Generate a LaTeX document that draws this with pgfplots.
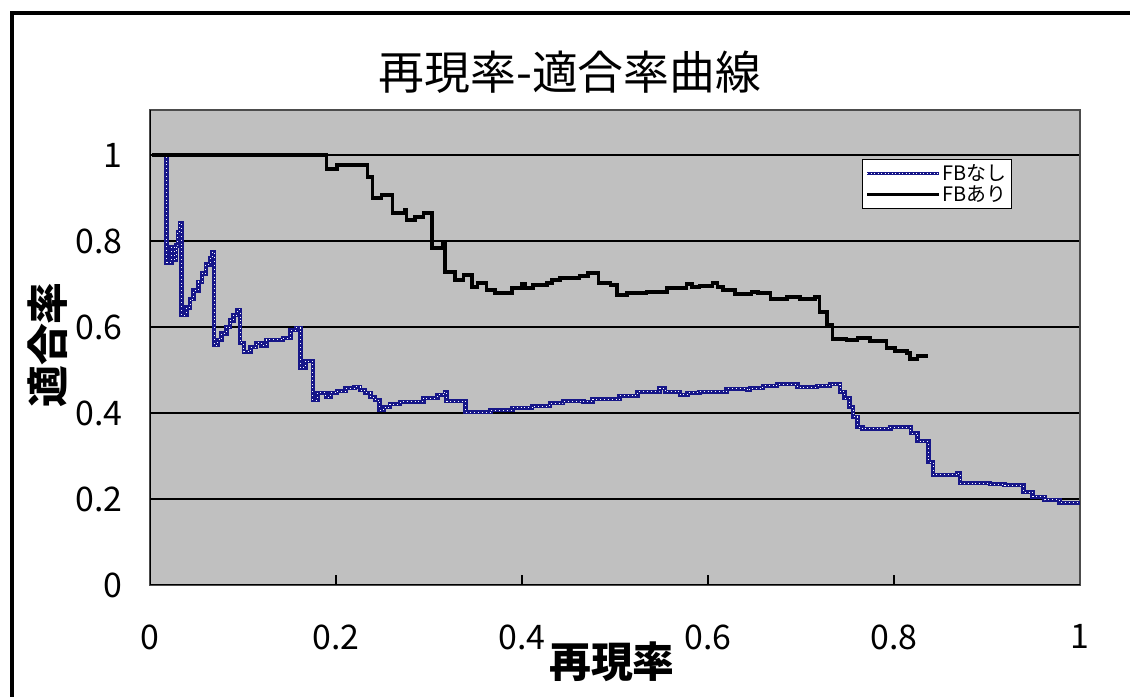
\documentclass[border=0pt]{standalone}
\usepackage{fontspec}
\setmainfont{Noto Sans CJK JP}
\usepackage{pgfplots}
\usepackage{pgfplotstable}
\pgfplotsset{compat=1.18}

\definecolor{plotgray}{HTML}{C0C0C0}
\definecolor{fbblue}{HTML}{161688}

% recall / precision, const plot (value holds until next recall)
\pgfplotstableread{
x y
0.003 1.000
0.018 0.750
0.023 0.786
0.026 0.756
0.028 0.790
0.030 0.820
0.032 0.842
0.034 0.628
0.039 0.645
0.043 0.665
0.047 0.685
0.052 0.705
0.056 0.725
0.060 0.745
0.065 0.760
0.067 0.774
0.069 0.558
0.073 0.570
0.077 0.585
0.082 0.600
0.086 0.615
0.090 0.628
0.094 0.640
0.097 0.563
0.101 0.542
0.108 0.553
0.114 0.563
0.120 0.557
0.125 0.570
0.143 0.574
0.151 0.593
0.157 0.598
0.162 0.505
0.167 0.521
0.175 0.430
0.180 0.447
0.189 0.437
0.194 0.447
0.201 0.451
0.210 0.458
0.220 0.461
0.226 0.453
0.231 0.447
0.237 0.437
0.242 0.430
0.247 0.407
0.251 0.414
0.258 0.421
0.269 0.426
0.294 0.435
0.309 0.442
0.317 0.449
0.319 0.428
0.339 0.402
0.366 0.407
0.390 0.412
0.411 0.416
0.430 0.423
0.444 0.428
0.466 0.426
0.476 0.432
0.505 0.440
0.524 0.449
0.548 0.458
0.554 0.449
0.570 0.442
0.578 0.447
0.591 0.449
0.620 0.456
0.642 0.453
0.645 0.458
0.659 0.463
0.674 0.467
0.696 0.460
0.717 0.463
0.731 0.467
0.742 0.449
0.747 0.435
0.752 0.414
0.756 0.391
0.761 0.367
0.766 0.363
0.796 0.367
0.818 0.353
0.825 0.335
0.837 0.286
0.842 0.256
0.868 0.260
0.871 0.237
0.903 0.235
0.919 0.232
0.939 0.216
0.949 0.205
0.962 0.198
0.978 0.191
1.000 0.191
}\fbnashi

\pgfplotstableread{
x y
0.002 1.000
0.190 0.967
0.201 0.977
0.234 0.949
0.239 0.900
0.249 0.907
0.261 0.865
0.274 0.872
0.276 0.849
0.285 0.856
0.294 0.865
0.303 0.784
0.315 0.793
0.317 0.728
0.328 0.709
0.337 0.721
0.346 0.693
0.352 0.702
0.362 0.686
0.371 0.679
0.389 0.691
0.400 0.700
0.403 0.691
0.412 0.698
0.427 0.702
0.432 0.709
0.441 0.714
0.462 0.719
0.471 0.726
0.482 0.702
0.495 0.698
0.502 0.674
0.513 0.679
0.534 0.681
0.556 0.691
0.577 0.700
0.583 0.693
0.591 0.695
0.605 0.702
0.610 0.693
0.616 0.686
0.629 0.677
0.647 0.681
0.654 0.679
0.667 0.665
0.685 0.670
0.699 0.665
0.715 0.670
0.720 0.635
0.728 0.605
0.734 0.572
0.749 0.570
0.761 0.574
0.774 0.567
0.792 0.551
0.801 0.544
0.814 0.540
0.817 0.526
0.825 0.533
0.837 0.533
}\fbari

\begin{document}
\begin{tikzpicture}
\useasboundingbox (0bp,0bp) rectangle (1130bp,697bp);
\draw[line width=4bp] (12bp,0bp) -- (12bp,684bp) -- (1130bp,684bp);

\begin{axis}[
  at={(150bp,112bp)}, anchor=south west,
  scale only axis, width=930bp, height=475bp,
  xmin=0, xmax=1, ymin=0, ymax=1.1047,
  xtick={0,0.2,0.4,0.6,0.8,1},
  ytick={0,0.2,0.4,0.6,0.8,1},
  axis background/.style={fill=plotgray},
  axis line style={draw=gray!60!black, line width=1.2bp},
  ymajorgrids,
  major grid style={black, line width=1.5bp},
  xtick pos=left, tick align=inside,
  major tick length=10bp,
  xtick style={black, line width=1.5bp},
  ytick style={draw=none},
  /pgf/number format/assume math mode=true,
  tick label style={font=\fontsize{34}{36}\selectfont},
  xticklabel style={yshift=-36bp},
  yticklabel style={xshift=-24bp},
  legend style={at={(0.7656,0.8968)}, anchor=north west,
    draw=black, line width=1.2bp, fill=white,
    inner xsep=3bp, inner ysep=3bp,
    font=\fontsize{20}{22}\selectfont, row sep=0bp},
  legend cell align=left,
]
\addplot[fbblue, line width=4.5bp, const plot,
  legend image code/.code={
    \draw[fbblue, line width=2.8bp] (0bp,0bp) -- (72bp,0bp);
    \draw[white, line width=0.7bp, dash pattern=on 0.9bp off 2.6bp] (0bp,0bp) -- (72bp,0bp);}]
  table[x=x,y=y] {\fbnashi};
\addlegendentry{FBなし}
\addplot[white, line width=0.9bp, const plot, dash pattern=on 0.9bp off 3bp, forget plot]
  table[x=x,y=y] {\fbnashi};
\addplot[black, line width=3.5bp, const plot,
  legend image code/.code={
    \draw[black, line width=2.8bp] (0bp,0bp) -- (72bp,0bp);}]
  table[x=x,y=y] {\fbari};
\addlegendentry{FBあり}
\draw[black, line width=2bp] (rel axis cs:0,1) -- (rel axis cs:0,0) -- (rel axis cs:1,0);
\end{axis}

\node at (570bp,625bp) {\fontsize{46}{50}\selectfont 再現率-適合率曲線};
\node[rotate=90] at (48bp,352bp) {\fontsize{42}{44}\selectfont\bfseries 適合率};
\node at (612bp,35bp) {\fontsize{42}{44}\selectfont\bfseries 再現率};
\end{tikzpicture}
\end{document}
